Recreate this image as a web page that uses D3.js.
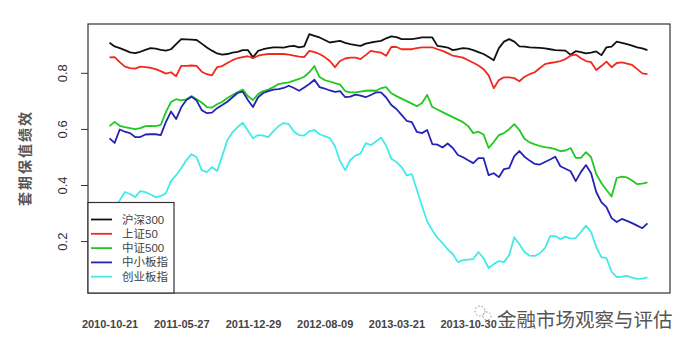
<!DOCTYPE html>
<html>
<head>
<meta charset="utf-8">
<script src="https://cdn.jsdelivr.net/npm/d3@7"></script>
<style>
  body { margin: 0; background: #fff; }
  text { font-family: "Liberation Sans", Arial, sans-serif; }
  .cjk { font-family: "Noto Sans CJK SC", sans-serif; }
  .legend-text { font-family: "Liberation Sans", "Noto Sans CJK SC", sans-serif; }
</style>
</head>
<body>
<svg id="canvas" width="696" height="350"></svg>
<script>
// sampled every 10 trading days from 2010-10-21
let dayStep = 10;

// the later date labels sit under the watermark in the source picture
let tickDays = [0, 140, 280, 420, 560, 700];
let tickLabels = ["2010-10-21", "2011-05-27", "2011-12-29", "2012-08-09",
  "2013-03-21", "2013-10-30"];
let yTicks = [0.2, 0.4, 0.6, 0.8];

let seriesNames = ["沪深300", "上证50", "中证500", "中小板指", "创业板指"];
let seriesColors = ["#111111", "#f02a1e", "#22c822", "#2323b4", "#44eaea"];

let hs300 = [0.907,0.894,0.888,0.881,0.873,0.870,0.875,0.882,0.888,0.886,
  0.882,0.879,0.884,0.902,0.920,0.919,0.918,0.917,0.904,0.890,
  0.879,0.869,0.865,0.867,0.872,0.875,0.881,0.881,0.855,0.878,
  0.884,0.888,0.891,0.891,0.890,0.894,0.896,0.891,0.894,0.938,
  0.932,0.926,0.917,0.908,0.911,0.914,0.907,0.902,0.899,0.896,
  0.904,0.908,0.911,0.914,0.923,0.930,0.927,0.920,0.920,0.920,
  0.923,0.926,0.926,0.926,0.896,0.893,0.890,0.881,0.884,0.888,
  0.886,0.881,0.874,0.867,0.856,0.845,0.888,0.911,0.920,0.911,
  0.894,0.893,0.891,0.890,0.889,0.887,0.884,0.881,0.880,0.879,
  0.864,0.877,0.874,0.869,0.872,0.876,0.863,0.891,0.893,0.911,
  0.907,0.902,0.897,0.891,0.887,0.881];

let sz50 = [0.855,0.856,0.838,0.822,0.817,0.815,0.822,0.820,0.818,0.813,
  0.806,0.797,0.802,0.788,0.825,0.825,0.826,0.825,0.804,0.795,
  0.791,0.820,0.824,0.835,0.845,0.852,0.856,0.859,0.852,0.861,
  0.865,0.867,0.867,0.867,0.867,0.865,0.861,0.858,0.856,0.878,
  0.874,0.867,0.856,0.842,0.820,0.842,0.851,0.854,0.854,0.849,
  0.863,0.878,0.875,0.872,0.861,0.892,0.892,0.884,0.884,0.884,
  0.888,0.891,0.891,0.891,0.884,0.878,0.870,0.861,0.858,0.854,
  0.845,0.836,0.826,0.813,0.791,0.745,0.774,0.784,0.784,0.781,
  0.770,0.786,0.795,0.802,0.817,0.831,0.835,0.838,0.842,0.849,
  0.861,0.865,0.852,0.842,0.838,0.810,0.824,0.840,0.820,0.835,
  0.837,0.833,0.828,0.813,0.798,0.795];

let zz500 = [0.610,0.625,0.611,0.606,0.603,0.599,0.603,0.610,0.611,0.610,
  0.614,0.660,0.696,0.706,0.702,0.705,0.717,0.706,0.694,0.678,
  0.676,0.688,0.697,0.710,0.721,0.731,0.740,0.717,0.703,0.724,
  0.735,0.740,0.749,0.760,0.763,0.766,0.772,0.778,0.786,0.802,
  0.824,0.785,0.774,0.769,0.763,0.758,0.735,0.730,0.730,0.733,
  0.736,0.737,0.736,0.745,0.749,0.727,0.717,0.708,0.699,0.690,
  0.681,0.692,0.721,0.678,0.669,0.660,0.651,0.642,0.633,0.624,
  0.610,0.585,0.590,0.580,0.532,0.553,0.578,0.585,0.599,0.617,
  0.596,0.565,0.552,0.545,0.539,0.535,0.532,0.528,0.521,0.523,
  0.532,0.497,0.497,0.517,0.499,0.439,0.407,0.382,0.359,0.425,
  0.430,0.427,0.416,0.403,0.405,0.409];

let zxb = [0.566,0.550,0.598,0.590,0.585,0.571,0.571,0.580,0.581,0.581,
  0.578,0.624,0.662,0.635,0.677,0.703,0.715,0.701,0.667,0.656,
  0.658,0.674,0.685,0.697,0.713,0.728,0.733,0.703,0.678,0.713,
  0.728,0.735,0.740,0.742,0.746,0.754,0.746,0.736,0.748,0.760,
  0.775,0.749,0.744,0.737,0.732,0.735,0.713,0.715,0.722,0.719,
  0.713,0.721,0.730,0.730,0.712,0.685,0.671,0.650,0.629,0.624,
  0.589,0.585,0.596,0.546,0.544,0.534,0.548,0.532,0.507,0.499,
  0.488,0.478,0.496,0.496,0.435,0.442,0.428,0.457,0.460,0.503,
  0.521,0.501,0.487,0.475,0.473,0.482,0.491,0.501,0.467,0.458,
  0.449,0.414,0.446,0.471,0.442,0.375,0.339,0.321,0.282,0.268,
  0.279,0.272,0.264,0.255,0.246,0.263];

let cyb = [0.293,0.311,0.346,0.375,0.368,0.357,0.378,0.375,0.366,0.357,
  0.360,0.371,0.414,0.435,0.460,0.489,0.510,0.499,0.453,0.446,
  0.464,0.450,0.503,0.560,0.588,0.606,0.622,0.594,0.567,0.578,
  0.576,0.571,0.592,0.610,0.621,0.617,0.590,0.578,0.576,0.592,
  0.596,0.581,0.574,0.567,0.539,0.485,0.453,0.489,0.505,0.512,
  0.549,0.542,0.555,0.569,0.540,0.494,0.482,0.464,0.434,0.439,
  0.382,0.325,0.271,0.239,0.212,0.193,0.171,0.154,0.125,0.132,
  0.134,0.136,0.161,0.139,0.104,0.118,0.129,0.125,0.150,0.214,
  0.189,0.161,0.148,0.147,0.157,0.175,0.218,0.218,0.207,0.216,
  0.209,0.211,0.232,0.255,0.232,0.179,0.143,0.139,0.091,0.072,
  0.073,0.076,0.070,0.065,0.066,0.071];

let allSeries = [hs300, sz50, zz500, zxb, cyb];

let canvas = d3.select("#canvas");

let plotLeft = 88, plotRight = 670, plotTop = 24, plotBottom = 293;

let xScale = d3.scaleLinear().domain([-42, 1094]).range([plotLeft, plotRight]);
let yScale = d3.scaleLinear().domain([0.015, 0.974]).range([plotBottom, plotTop]);

let line = d3
  .line()
  .x((v, i) => xScale(i * dayStep))
  .y((v) => yScale(v));

// lines
canvas
  .append("g")
  .selectAll("path")
  .data(allSeries)
  .enter()
  .append("path")
  .attr("d", (s) => line(s))
  .attr("fill", "none")
  .attr("stroke", (s, i) => seriesColors[i])
  .attr("stroke-width", 1.8)
  .attr("stroke-linejoin", "round");

// y axis
let yAxis = canvas
  .append("g")
  .attr("transform", "translate(" + plotLeft + ",0)")
  .call(d3.axisLeft(yScale).tickValues(yTicks).tickSize(7).tickFormat(d3.format(".1f")));
yAxis.select(".domain").remove();
yAxis.selectAll("line").attr("stroke", "#333");
yAxis
  .selectAll("text")
  .attr("x", 0)
  .attr("dy", 0)
  .attr("text-anchor", "middle")
  .attr("transform", "translate(-21,0) rotate(-90)")
  .attr("font-size", "13px")
  .attr("fill", "#333");

// x axis labels
let xAxis = canvas
  .append("g")
  .attr("transform", "translate(0," + plotBottom + ")")
  .call(d3.axisBottom(xScale).tickValues(tickDays).tickSize(0).tickPadding(27)
    .tickFormat((d, i) => tickLabels[i]));
xAxis.select(".domain").remove();
xAxis
  .selectAll("text")
  .attr("font-size", "11px")
  .attr("font-weight", "bold")
  .attr("fill", "#444");

// frame
canvas
  .append("rect")
  .attr("x", plotLeft)
  .attr("y", plotTop)
  .attr("width", plotRight - plotLeft)
  .attr("height", plotBottom - plotTop)
  .attr("fill", "none")
  .attr("stroke", "#333")
  .attr("stroke-width", 1.2);

// y title
canvas
  .append("text")
  .attr("class", "cjk")
  .attr("transform", "translate(30,158) rotate(-90)")
  .attr("text-anchor", "middle")
  .attr("font-size", "14px")
  .attr("font-weight", "bold")
  .attr("letter-spacing", "2px")
  .attr("fill", "#555")
  .text("套期保值绩效");

// legend
let legend = canvas.append("g");
legend
  .append("rect")
  .attr("x", plotLeft)
  .attr("y", 202.5)
  .attr("width", 86)
  .attr("height", plotBottom - 202.5)
  .attr("fill", "#fff")
  .attr("stroke", "#333")
  .attr("stroke-width", 1.2);

let rows = legend
  .selectAll("g.row")
  .data(seriesNames)
  .enter()
  .append("g")
  .attr("class", "row")
  .attr("transform", (d, i) => "translate(0," + (219.5 + i * 14.3) + ")");

rows
  .append("line")
  .attr("x1", 91)
  .attr("x2", 112)
  .attr("stroke", (d, i) => seriesColors[i])
  .attr("stroke-width", 1.8);

rows
  .append("text")
  .attr("class", "legend-text")
  .attr("x", 122)
  .attr("dy", "0.35em")
  .attr("font-size", "11.5px")
  .attr("fill", "#444")
  .text((d) => d);

// watermark
let mark = canvas.append("g");
mark
  .append("circle")
  .attr("cx", 480)
  .attr("cy", 311)
  .attr("r", 5)
  .attr("fill", "none")
  .attr("stroke", "#888")
  .attr("stroke-width", 1)
  .attr("stroke-dasharray", "1.5,2");
mark
  .append("circle")
  .attr("cx", 487)
  .attr("cy", 316)
  .attr("r", 4)
  .attr("fill", "none")
  .attr("stroke", "#888")
  .attr("stroke-width", 1)
  .attr("stroke-dasharray", "1.5,2");
mark
  .append("text")
  .attr("class", "cjk")
  .attr("x", 497)
  .attr("y", 327)
  .attr("font-size", "19.5px")
  .attr("fill", "#555")
  .attr("stroke", "#fff")
  .attr("stroke-width", 4)
  .attr("paint-order", "stroke")
  .text("金融市场观察与评估");
</script>
</body>
</html>
